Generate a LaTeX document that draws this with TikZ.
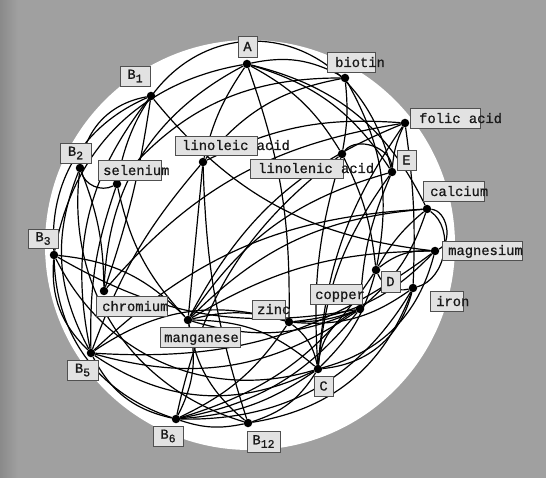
\documentclass[tikz,border=0pt]{standalone}
\usepackage{fontspec}
\newfontfamily\lblfont[FakeBold=0.8]{Liberation Mono}
\definecolor{bggray}{RGB}{160,160,160}
\definecolor{bgdark}{RGB}{138,138,138}
\definecolor{boxfill}{RGB}{226,226,226}
\definecolor{boxline}{RGB}{80,80,80}
\newcommand\sub[1]{\raisebox{-3.5pt}{\fontsize{11.5}{12}\selectfont #1}}
\tikzset{
  dot/.style={circle,fill=black,inner sep=0pt,minimum size=8.5pt},
  lbox/.style={draw=boxline,fill=boxfill,line width=0.8pt,inner sep=0pt},
  ltext/.style={inner sep=0pt,text=black!90,font=\lblfont\fontsize{13.8}{14}\selectfont},
  edge/.style={draw=black,line width=1.2pt},
}
% box with left-set text: name, left, top, right, bottom, text x, text
\newcommand\lab[7]{%
  \node[lbox,anchor=north west,minimum width={#4-#2},minimum height={#5-#3}] (#1) at (#2,#3) {};
  \node[ltext,anchor=base west] (#1t) at ({#6},{#5-5}) {#7};}
% box with centred text
\newcommand\clab[6]{%
  \node[lbox,ltext,minimum width={#4-#2},minimum height={#5-#3}] (#1) at ({(#2+#4)/2},{(#3+#5)/2}) {#6};}
\begin{document}
\begin{tikzpicture}[x=1pt,y=-1pt]
\useasboundingbox (0,0) rectangle (546,478);
\fill[bggray] (0,0) rectangle (546,478);
\shade[left color=bgdark,right color=bggray] (0,0) rectangle (18,478);
\fill[white] (250,245) circle (205pt);
% dots
\node[dot] (A) at (247,64) {};
\node[dot] (B1) at (151,96) {};
\node[dot] (bio) at (345,78) {};
\node[dot] (fol) at (405,123) {};
\node[dot] (B2) at (80,168) {};
\node[dot] (sel) at (117,184) {};
\node[dot] (lino) at (203,162) {};
\node[dot] (lnn) at (342,154) {};
\node[dot] (E) at (392,172) {};
\node[dot] (cal) at (427,209) {};
\node[dot] (B3) at (54,255) {};
\node[dot] (mag) at (435,251) {};
\node[dot] (D) at (376,270) {};
\node[dot] (iron) at (413,288) {};
\node[dot] (chr) at (104,291) {};
\node[dot] (man) at (188,320) {};
\node[dot] (zn) at (289,322) {};
\node[dot] (cu) at (360,309) {};
\node[dot] (C) at (318,369) {};
\node[dot] (B5) at (91,353) {};
\node[dot] (B6) at (176,419) {};
\node[dot] (B12) at (248,423) {};
\begin{scope}[every path/.style={edge}]
% outer arcs
\draw (B1) to[bend right=35] (B2);
\draw (B1) to[bend right=35] (B3);
\draw (B1) to[bend right=25] (B5);
\draw (B2) to[bend right=25] (B5);
\draw (B3) to[bend right=25] (B5);
\draw (B3) to[bend right=35] (B6);
\draw (B2) to[bend right=40] (B12);
\draw (B5) to[bend right=25] (B6);
\draw (B3) to[bend right=40] (C);
\draw (B5) to[bend right=30] (C);
\draw (B6) to[bend right=30] (iron);
\draw (B12) to[bend right=30] (iron);
\draw (B5) to[bend right=25] (cu);
\draw (B6) to[bend right=15] (B12);
\draw (B12) to[bend right=20] (C);
\draw (C) to[bend right=35] (iron);
\draw (C) to[bend right=30] (mag);
\draw (mag) to[bend right=75] (cal);
\draw (iron) to[bend right=65] (cal);
\draw (A) to[bend right=35] (B3);
\draw (A) to[bend right=30] (chr);
\draw (sel) .. controls (150,-3) and (350,-3) .. (E);
% A
\draw (A) to[bend left=20] (bio);
\draw (A) to[bend left=20] (E);
\draw (A) to[bend left=15] (lnn);
\draw (A) to[bend left=25] (cal);
\draw (A) to[bend left=10] (zn);
\draw (A) to[bend right=10] (lino);
% biotin
\draw (bio) to[bend right=20] (lino);
\draw (bio) to[bend right=25] (sel);
\draw (bio) to[bend left=8] (lnn);
\draw (bio) to[bend left=20] (D);
% folic
\draw (fol) to[bend right=10] (E);
\draw (fol) to[bend left=5] (iron);
\draw (fol) to[bend right=15] (C);
\draw (fol) to[bend right=20] (chr);
\draw (fol) to[bend right=20] (man);
\draw (fol) to[bend right=15] (lino);
% linolenic
\draw (lnn) to[bend left=70] (E);
\draw (lnn) to[bend left=10] (D);
\draw (lnn) to[bend right=20] (B6);
\draw (lnn) to[bend right=10] (C);
% E
\draw (E) to[bend right=15] (C);
\draw (E) to[bend right=10] (cu);
\draw (E) to[bend right=20] (man);
% calcium
\draw (cal) to[bend right=20] (B5);
\draw (cal) to[bend right=20] (man);
\draw (cal) to[bend right=10] (D);
\draw (cal) to[bend left=15] (cu);
% magnesium
\draw (mag) to[bend right=20] (D);
\draw (mag) to[bend left=20] (B5);
\draw (mag) to[bend left=20] (zn);
\draw (mag) to[bend right=15] (man);
% D
\draw (D) to[bend right=40] (iron);
\draw (D) to[bend left=15] (C);
\draw (D) to[bend left=20] (B6);
\draw (mag) to[bend left=22] (B1);
% iron
\draw (iron) to[bend left=20] (zn);
% copper
\draw (cu) to[bend right=30] (C);
\draw (cu) to[bend left=10] (zn);
\draw (cu) to[bend left=20] (man);
\draw (cu) to[bend left=20] (B6);
\draw (cu) to[bend left=20] (B3);
% zinc
\draw (zn) to[bend right=15] (man);
\draw (zn) to[bend right=25] (B5);
\draw (zn) to[bend left=20] (C);
\draw (zn) to[bend left=15] (B6);
% C
\draw (C) to[bend left=15] (B6);
\draw (C) to[bend right=20] (man);
% manganese
\draw (man) -- (lino);
\draw (man) to[bend right=20] (B12);
\draw (man) to[bend left=15] (sel);
\draw (man) to[bend right=20] (B3);
\draw (man) to[bend left=20] (B6);
% left group
\draw (B2) to[bend right=50] (sel);
\draw (B2) to[bend left=10] (chr);
\draw (sel) to[bend right=10] (B5);
\draw (B5) to[bend left=10] (lino);
\draw (B1) to[bend left=5] (chr);
\draw (B12) to[bend left=8] (lino);
\end{scope}
% labels
\clab{Al}{238}{36}{257}{57}{A}
\clab{B1l}{120}{66}{150}{86}{B\sub{1}}
\lab{biol}{327}{52}{375}{72}{335}{biotin}
\lab{foll}{410}{108}{480}{128}{419}{folic acid}
\clab{B2l}{60}{143}{91}{163}{B\sub{2}}
\lab{sell}{98}{160}{161}{180}{103}{selenium}
\lab{linol}{175}{136}{257}{155}{182}{linoleic acid}
\lab{lnnl}{250}{159}{343}{178}{258}{linolenic acid}
\clab{El}{397}{150}{416}{170}{E}
\lab{call}{423}{181}{484}{201}{430}{calcium}
\clab{B3l}{28}{229}{58}{248}{B\sub{3}}
\lab{magl}{442}{241}{522}{260}{448}{magnesium}
\clab{Dl}{381}{271}{400}{292}{D}
\lab{ironl}{430}{291}{463}{311}{436}{iron}
\lab{cul}{310}{284}{362}{304}{315}{copper}
\lab{znl}{252}{300}{285}{319}{257}{zinc}
\clab{Cl}{314}{376}{333}{396}{C}
\lab{chrl}{96}{296}{167}{316}{102}{chromium}
\lab{manl}{160}{327}{240}{347}{164}{manganese}
\clab{B5l}{67}{360}{98}{380}{B\sub{5}}
\clab{B6l}{153}{426}{183}{446}{B\sub{6}}
\clab{B12l}{247}{431}{280}{452}{B\sub{12}}
\end{tikzpicture}
\end{document}
